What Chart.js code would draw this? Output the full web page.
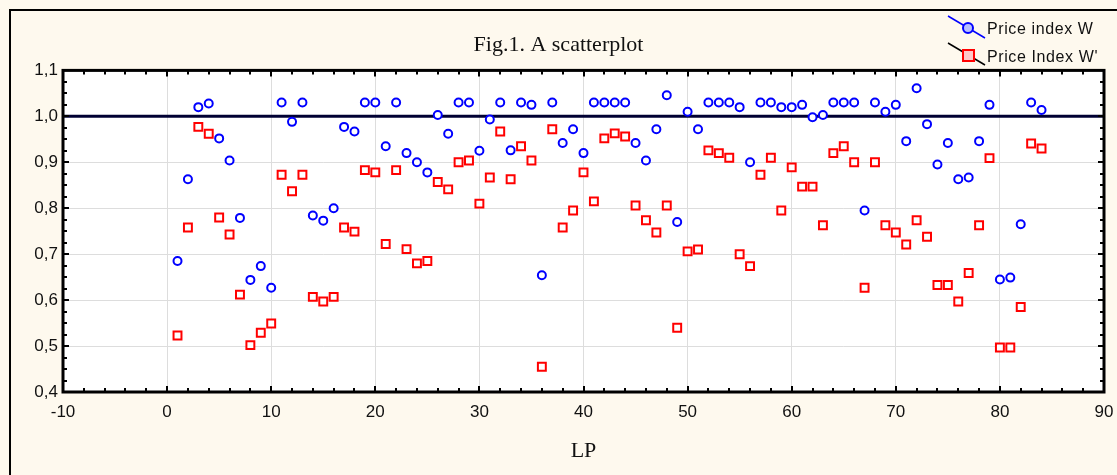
<!DOCTYPE html>
<html>
<head>
<meta charset="utf-8">
<title>Fig.1. A scatterplot</title>
<script src="https://cdn.jsdelivr.net/npm/chart.js@4/dist/chart.umd.min.js"></script>
<style>
html, body { margin: 0; padding: 0; background: #fef9ee; }
#wrap { position: relative; width: 1117px; height: 475px; }
</style>
</head>
<body>
<div id="wrap"><canvas id="scatterChart" width="1117" height="475"></canvas></div>
<script>
// observation number (LP)
const lp = [1, 2, 3, 4, 5, 6, 7, 8, 9, 10, 11, 12, 13, 14, 15, 16, 17, 18, 19, 20,
    21, 22, 23, 24, 25, 26, 27, 28, 29, 30, 31, 32, 33, 34, 35, 36, 37, 38, 39, 40,
    41, 42, 43, 44, 45, 46, 47, 48, 49, 50, 51, 52, 53, 54, 55, 56, 57, 58, 59, 60,
    61, 62, 63, 64, 65, 66, 67, 68, 69, 70, 71, 72, 73, 74, 75, 76, 77, 78, 79, 80,
    81, 82, 83, 84];

// Price index W
const priceW = [0.685, 0.863, 1.020, 1.028, 0.952, 0.904, 0.779, 0.644, 0.674, 0.627,
    1.030, 0.988, 1.030, 0.784, 0.773, 0.800, 0.977, 0.967, 1.030, 1.030,
    0.935, 1.030, 0.920, 0.900, 0.878, 1.003, 0.962, 1.030, 1.030, 0.925,
    0.993, 1.030, 0.926, 1.030, 1.025, 0.654, 1.030, 0.942, 0.972, 0.920,
    1.030, 1.030, 1.030, 1.030, 0.942, 0.904, 0.972, 1.046, 0.770, 1.010,
    0.972, 1.030, 1.030, 1.030, 1.020, 0.900, 1.030, 1.030, 1.020, 1.020,
    1.025, 0.998, 1.003, 1.030, 1.030, 1.030, 0.795, 1.030, 1.010, 1.025,
    0.946, 1.061, 0.983, 0.895, 0.942, 0.863, 0.867, 0.946, 1.025, 0.645,
    0.649, 0.765, 1.030, 1.014];

// Price Index W'
const priceW2 = [0.523, 0.758, 0.977, 0.962, 0.780, 0.743, 0.612, 0.502, 0.529, 0.549,
    0.873, 0.837, 0.873, 0.607, 0.597, 0.607, 0.758, 0.749, 0.883, 0.878,
    0.722, 0.883, 0.711, 0.680, 0.685, 0.857, 0.841, 0.900, 0.904, 0.810,
    0.867, 0.967, 0.863, 0.935, 0.904, 0.455, 0.972, 0.758, 0.795, 0.878,
    0.815, 0.952, 0.963, 0.956, 0.806, 0.774, 0.747, 0.806, 0.540, 0.706,
    0.710, 0.926, 0.920, 0.910, 0.700, 0.674, 0.873, 0.910, 0.795, 0.889,
    0.847, 0.847, 0.763, 0.920, 0.935, 0.900, 0.627, 0.900, 0.763, 0.747,
    0.721, 0.774, 0.738, 0.633, 0.633, 0.597, 0.659, 0.763, 0.909, 0.497,
    0.497, 0.585, 0.941, 0.930];

// reference line at 1,0
const refLineX = [-10, 90];
const refLineY = [1.0, 1.0];

const xMin = -10, xMax = 90, xStep = 10;
const yMin = 0.4, yMax = 1.1, yStep = 0.1;

function toPoints(xs, ys) {
    return xs.map(function (x, i) { return { x: x, y: ys[i] }; });
}

// background, frame, inward ticks and the legend
const framePlugin = {
    id: 'frame',
    beforeDraw(chart) {
        const ctx = chart.ctx, a = chart.chartArea;
        ctx.save();
        ctx.fillStyle = '#fef9ee';
        ctx.fillRect(0, 0, chart.width, chart.height);
        ctx.fillStyle = '#ffffff';
        ctx.fillRect(a.left, a.top, a.right - a.left, a.bottom - a.top);
        ctx.strokeStyle = '#000000';
        ctx.lineWidth = 2;
        ctx.beginPath();
        ctx.moveTo(10, chart.height);
        ctx.lineTo(10, 10);
        ctx.lineTo(chart.width, 10);
        ctx.stroke();
        ctx.restore();
    },
    afterDraw(chart) {
        const ctx = chart.ctx, a = chart.chartArea;
        const xs = chart.scales.x, ys = chart.scales.y;
        ctx.save();
        ctx.strokeStyle = '#000000';
        ctx.lineWidth = 2;
        ctx.beginPath();
        for (let i = 0; i <= (xMax - xMin) / 2; i++) {
            const v = xMin + i * 2;
            const px = Math.round(xs.getPixelForValue(v));
            const len = (v % 10 === 0) ? 6 : 4;
            ctx.moveTo(px, a.bottom); ctx.lineTo(px, a.bottom - len);
            ctx.moveTo(px, a.top); ctx.lineTo(px, a.top + len);
        }
        for (let i = 0; i <= 28; i++) {
            const py = Math.round(ys.getPixelForValue(yMin + i * 0.025));
            const len = (i % 4 === 0) ? 6 : 4;
            ctx.moveTo(a.left, py); ctx.lineTo(a.left + len, py);
            ctx.moveTo(a.right, py); ctx.lineTo(a.right - len, py);
        }
        ctx.stroke();
        ctx.lineWidth = 3;
        ctx.strokeRect(a.left, a.top, a.right - a.left, a.bottom - a.top);

        // legend
        ctx.font = '16px "Liberation Sans", Arial, sans-serif';
        ctx.letterSpacing = '0.6px';
        ctx.fillStyle = '#111111';
        ctx.textBaseline = 'middle';
        ctx.textAlign = 'left';

        ctx.strokeStyle = '#0000ff';
        ctx.lineWidth = 1.5;
        ctx.beginPath();
        ctx.moveTo(948, 16); ctx.lineTo(985, 38);
        ctx.stroke();
        ctx.fillStyle = '#b8c0ff';
        ctx.beginPath();
        ctx.arc(968, 28, 5, 0, Math.PI * 2);
        ctx.fill();
        ctx.lineWidth = 2;
        ctx.stroke();
        ctx.fillStyle = '#111111';
        ctx.fillText('Price index W', 987, 30);

        ctx.strokeStyle = '#000000';
        ctx.lineWidth = 1.5;
        ctx.beginPath();
        ctx.moveTo(948, 43); ctx.lineTo(985, 65);
        ctx.stroke();
        ctx.fillStyle = '#ffc8c8';
        ctx.fillRect(963, 50, 11, 11);
        ctx.strokeStyle = '#ff0000';
        ctx.lineWidth = 2;
        ctx.strokeRect(963, 50, 11, 11);
        ctx.fillStyle = '#111111';
        ctx.fillText("Price Index W'", 987, 58);
        ctx.restore();
    }
};

const ctx = document.getElementById('scatterChart').getContext('2d');

new Chart(ctx, {
    type: 'scatter',
    data: {
        datasets: [
            {
                label: '1,0',
                data: toPoints(refLineX, refLineY),
                showLine: true,
                borderColor: '#000033',
                borderWidth: 3,
                pointRadius: 0,
                order: 3
            },
            {
                label: 'Price index W',
                data: toPoints(lp, priceW),
                pointStyle: 'circle',
                pointRadius: 4,
                pointBorderWidth: 2,
                borderColor: '#0000ff',
                backgroundColor: '#ffffff',
                order: 1
            },
            {
                label: "Price Index W'",
                data: toPoints(lp, priceW2),
                pointStyle: 'rect',
                pointRadius: 5.6,
                pointBorderWidth: 2,
                borderColor: '#ff0000',
                backgroundColor: '#ffffff',
                order: 2
            }
        ]
    },
    options: {
        responsive: false,
        animation: false,
        devicePixelRatio: 1,
        layout: { padding: { left: 0, right: 0, top: 0, bottom: 0 } },
        plugins: {
            legend: { display: false },
            tooltip: { enabled: false },
            title: {
                display: true,
                text: 'Fig.1. A scatterplot',
                color: '#111111',
                font: { family: '"Liberation Serif", "Times New Roman", serif', size: 22, weight: 'normal', lineHeight: 1.2 },
                padding: { top: 32, bottom: 12 }
            }
        },
        scales: {
            x: {
                type: 'linear',
                min: xMin,
                max: xMax,
                afterFit: function (scale) {
                    scale.height = 83;
                    scale.paddingLeft = 0;
                    scale.paddingRight = 13;
                },
                ticks: {
                    stepSize: xStep,
                    padding: 10,
                    color: '#111111',
                    font: { family: '"Liberation Sans", Arial, sans-serif', size: 17 }
                },
                grid: { color: '#dddddd', lineWidth: 1, drawTicks: false },
                border: { display: false },
                title: {
                    display: true,
                    text: 'LP',
                    color: '#111111',
                    font: { family: '"Liberation Serif", "Times New Roman", serif', size: 22, lineHeight: 1.2 },
                    padding: { top: 0, bottom: 11 }
                }
            },
            y: {
                type: 'linear',
                min: yMin,
                max: yMax,
                afterFit: function (scale) { scale.width = 63; },
                ticks: {
                    stepSize: yStep,
                    padding: 5,
                    color: '#111111',
                    font: { family: '"Liberation Sans", Arial, sans-serif', size: 17 },
                    callback: function (v) { return v.toFixed(1).replace('.', ','); }
                },
                grid: { color: '#dddddd', lineWidth: 1, drawTicks: false },
                border: { display: false }
            }
        }
    },
    plugins: [framePlugin]
});
</script>
</body>
</html>
